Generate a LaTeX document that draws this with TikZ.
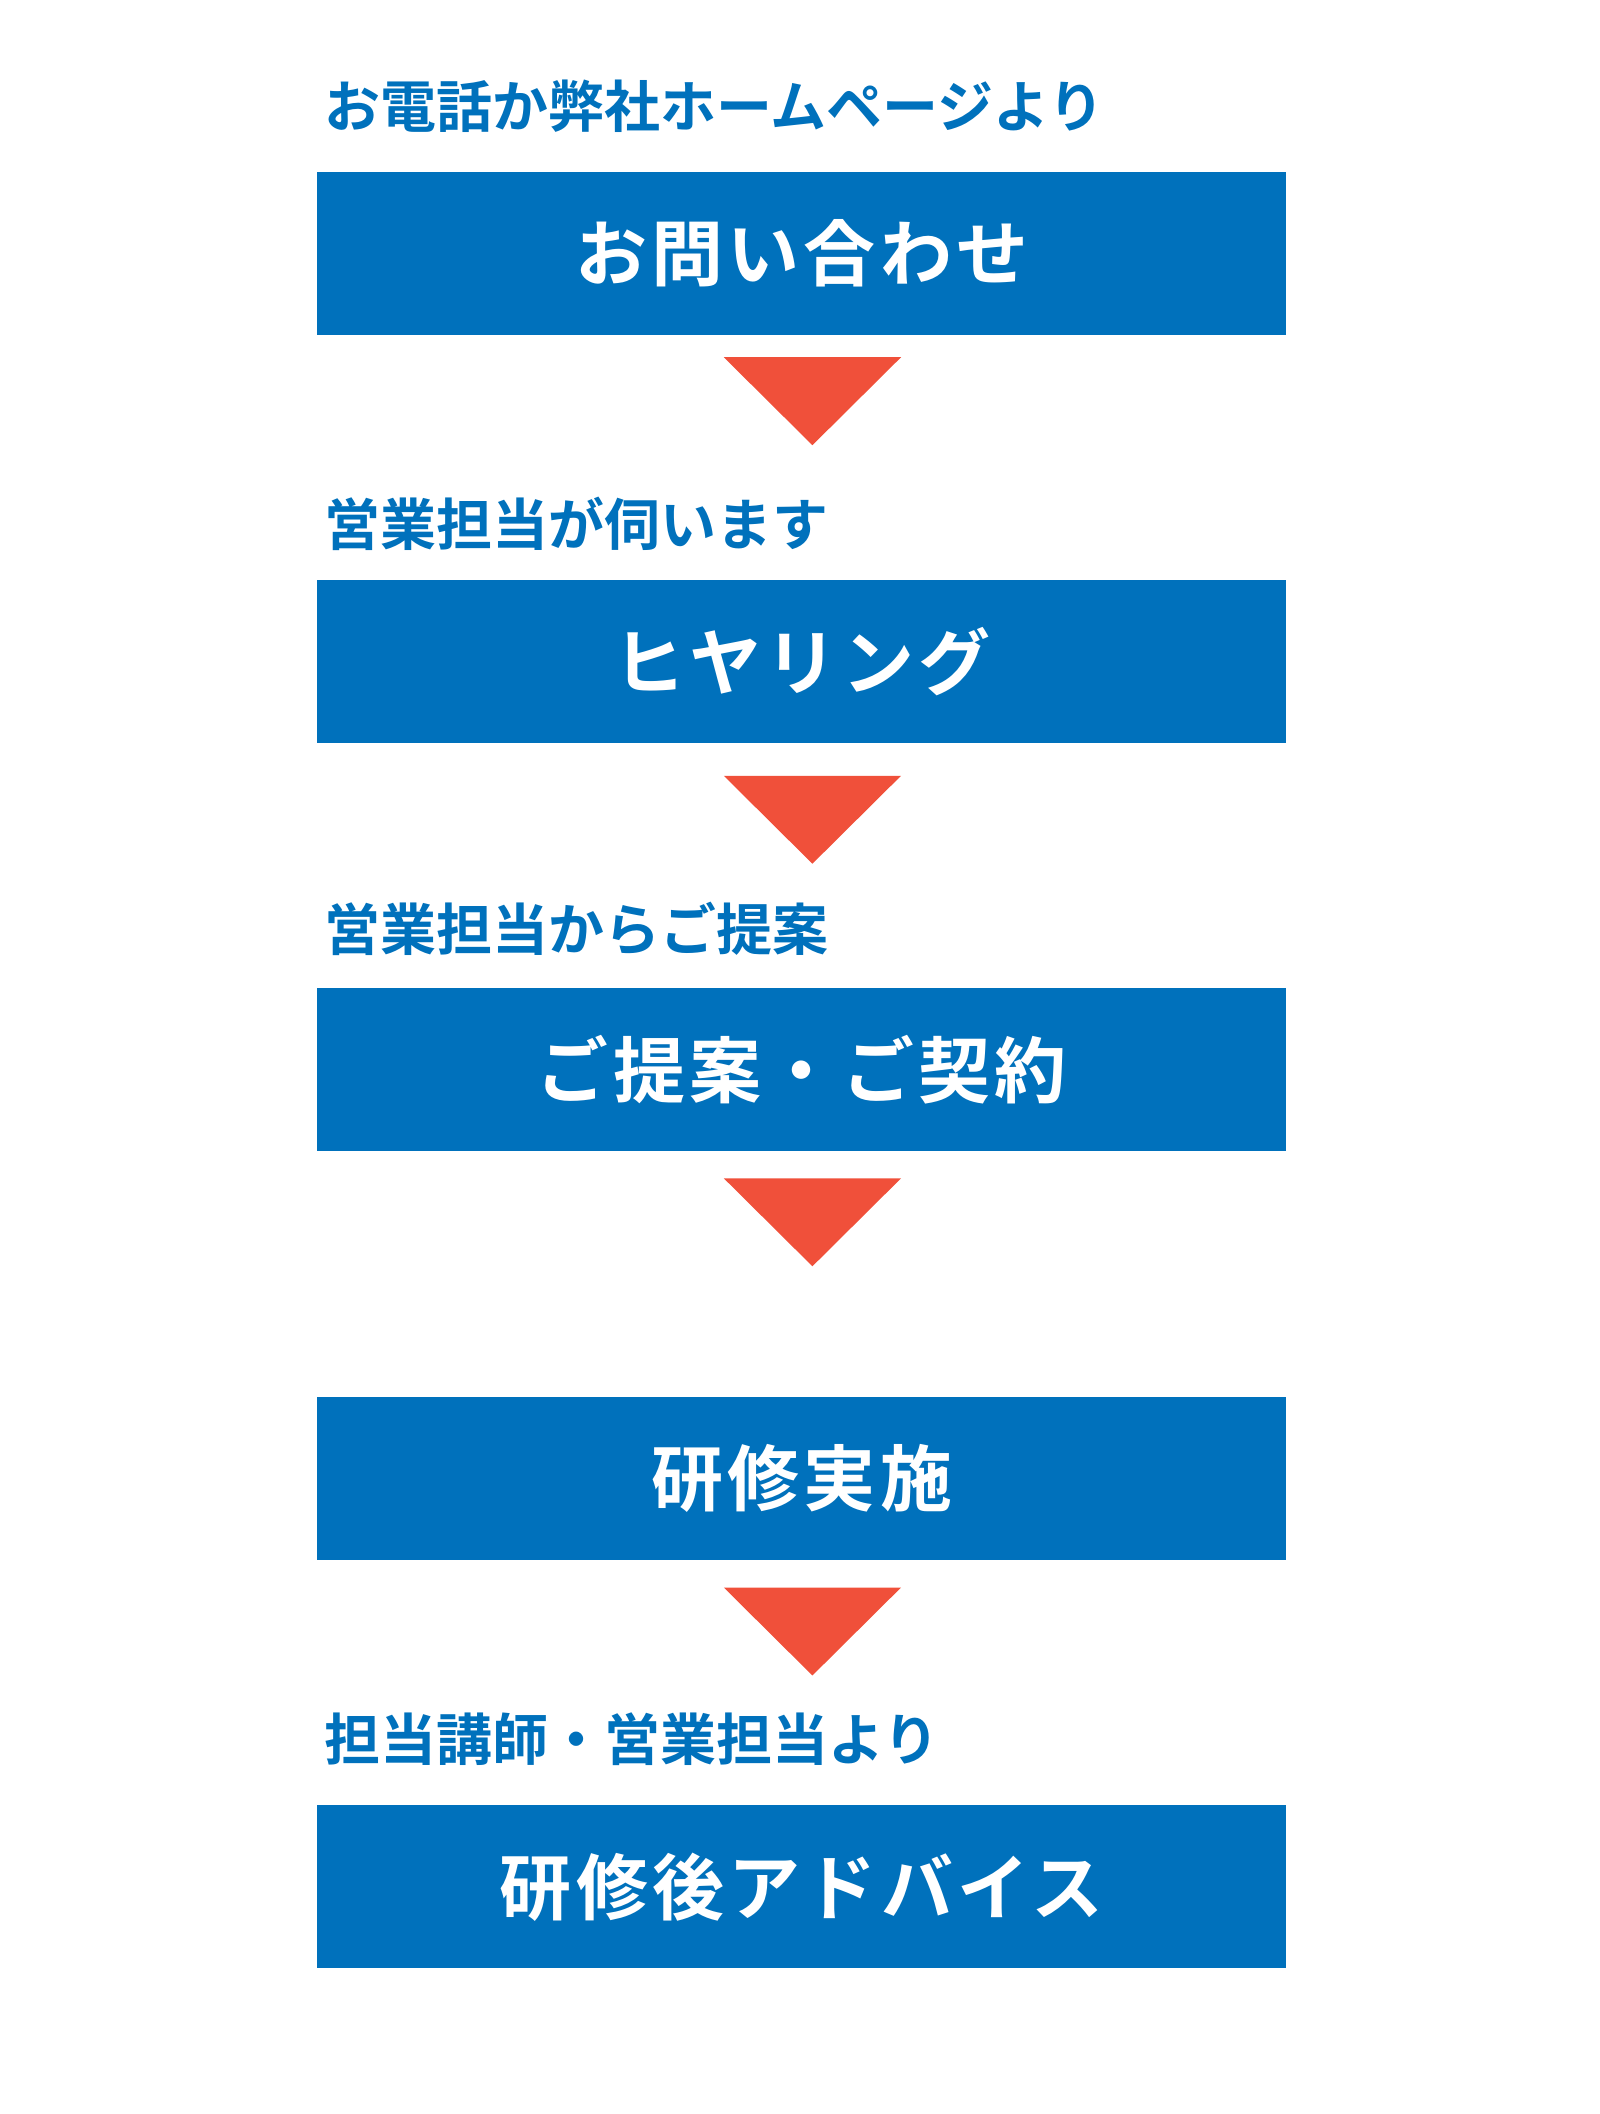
\documentclass[tikz,border=0pt]{standalone}
\usepackage{fontspec}
\newfontfamily\jp[LetterSpace=6]{Noto Sans CJK JP Bold}
\newfontfamily\jplabel{Noto Sans CJK JP Bold}
\usetikzlibrary{positioning}
\definecolor{flowblue}{HTML}{0071BC}
\definecolor{flowred}{HTML}{F0503A}
\tikzset{
  stepbox/.style={fill=flowblue, text=white, minimum width=363.5pt, minimum height=61pt, inner sep=0pt, font=\jp\fontsize{27}{27}\selectfont},
  steplabel/.style={text=flowblue, anchor=west, inner sep=0pt, font=\jplabel\fontsize{21}{21}\selectfont},
  downmark/.style={fill=flowred},
}
\begin{document}
\begin{tikzpicture}[x=0.5pt, y=-0.5pt]
\useasboundingbox (0,0) rectangle (1200,1586);

% Boxes
\node[stepbox] (ask)    at (601.5,190)  {お問い合わせ};
\node[stepbox] (hear)   at (601.5,496.5){ヒヤリング};
\node[stepbox] (offer)  at (601.5,802.5){ご提案・ご契約};
\node[stepbox] (train)  at (601.5,1109) {研修実施};
\node[stepbox] (advice) at (601.5,1415.5){研修後アドバイス};

% Labels
\node[steplabel] (l1) at (243,80)   {お電話か弊社ホームページより};
\node[steplabel] (l2) at (243,393)  {営業担当が伺います};
\node[steplabel] (l3) at (243,697)  {営業担当からご提案};
\node[steplabel] (l5) at (243,1305) {担当講師・営業担当より};

% Arrows
\foreach \t in {268,582,884,1191}
  \fill[downmark] (543,\t) -- (676,\t) -- (609.5,\t+66) -- cycle;

\end{tikzpicture}
\end{document}
